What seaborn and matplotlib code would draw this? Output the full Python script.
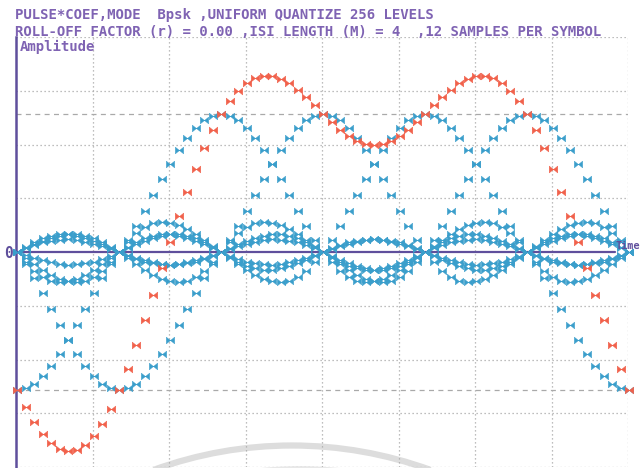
import numpy as np
import pandas as pd
import matplotlib
matplotlib.use("Agg")
import matplotlib.pyplot as plt
import seaborn as sns
from matplotlib.path import Path
from matplotlib.patches import Arc
from matplotlib.transforms import IdentityTransform

# BPSK symbols feeding the shaping filter; the first entry is symbol index -3
symbols = [-1, 1, 1, -1, -1, 1, 1, 1, 1, -1, -1, 1, 1]
first_symbol = -3
samples_per_symbol = 12
isi_length = 4
n_samples = 73

# one half of the symmetric pulse coefficients (r = 0.00), taps 0 .. 48
half_pulse = [
    1.0000, 0.9886, 0.9549, 0.9003, 0.8270, 0.7379, 0.6366, 0.5271, 0.4135,
    0.3001, 0.1910, 0.0899, 0.0000,
    -0.0760, -0.1364, -0.1801, -0.2067, -0.2170, -0.2122, -0.1942, -0.1654,
    -0.1286, -0.0868, -0.0430, 0.0000,
    0.0395, 0.0735, 0.1000, 0.1181, 0.1272, 0.1273, 0.1190, 0.1034,
    0.0819, 0.0562, 0.0283, 0.0000,
    -0.0267, -0.0503, -0.0693, -0.0827, -0.0900, -0.0910, -0.0858, -0.0752,
    -0.0600, -0.0415, -0.0210, 0.0000,
]

title_1 = "PULSE*COEF,MODE  Bpsk ,UNIFORM QUANTIZE 256 LEVELS"
title_2 = "ROLL-OFF FACTOR (r) = 0.00 ,ISI LENGTH (M) = 4  ,12 SAMPLES PER SYMBOL"

# each symbol times the pulse taps, placed on the sample grid
span = samples_per_symbol * isi_length
rows = []
for i, a in enumerate(symbols):
    k = first_symbol + i
    for m in range(-span, span + 1):
        n = k * samples_per_symbol + m
        if 0 <= n < n_samples:
            rows.append((n, a * half_pulse[abs(m)], k))
pulses = pd.DataFrame(rows, columns=["sample", "amplitude", "symbol"])
# superposition of all shaped symbols
total = pulses.groupby("sample", as_index=False)["amplitude"].sum()

BLUE = "#3a9ecb"
RED = "#f1614b"
PURPLE_TXT = "#7f63b3"
PURPLE_AX = "#5f4f9c"
GRID = "#a9a9a9"

sns.set_style("white")
plt.rcParams["font.family"] = ["DejaVu Sans Mono", "DejaVu Sans"]

W, H = 642, 468
fig = plt.figure(figsize=(W / 100, H / 100), dpi=100)
fig.patch.set_facecolor("white")

# faint grey arc along the lower edge, behind the plot
arc = Arc((292, H - 850), 809, 809, theta1=70, theta2=110,
          transform=IdentityTransform(), color="#dddddd", lw=4.5, zorder=0)
fig.add_artist(arc)
arc2 = Arc((300, H - 872), 809, 809, theta1=73, theta2=106,
           transform=IdentityTransform(), color="#e8e8e8", lw=2, zorder=0)
fig.add_artist(arc2)

ax = fig.add_axes([16 / W, 1 / H, 612 / W, 430 / H])
ax.patch.set_alpha(0)

px = 8.5
xmin, xmax = -1 / px, (628 - 17) / px
ylim = 1.558
ax.set_xlim(xmin, xmax)
ax.set_ylim(-ylim, ylim)

for xv in np.linspace(xmin, xmax, 9)[1:]:
    ax.axvline(xv, color=GRID, lw=0.9, ls=(0, (1, 2.2)), zorder=1)
for yv in np.linspace(-ylim, ylim, 9):
    if abs(yv) > 1e-9:
        ax.axhline(yv, color=GRID, lw=0.9, ls=(0, (1, 2.2)), zorder=1)
for yv in (-1.0, 1.0):
    ax.axhline(yv, color=GRID, lw=0.9, ls=(0, (4, 3.5)), zorder=1)

ax.axhline(0, xmin=0, xmax=(615 - 16) / 612, color=PURPLE_AX, lw=1.6, zorder=2)

for s in ("top", "right", "bottom"):
    ax.spines[s].set_visible(False)
ax.spines["left"].set_color(PURPLE_AX)
ax.spines["left"].set_linewidth(1.8)
ax.set_xticks([])
ax.set_yticks([])

bowtie = Path([(-1, -0.8), (1, 0.8), (1, -0.8), (-1, 0.8), (-1, -0.8)],
              [Path.MOVETO, Path.LINETO, Path.LINETO, Path.LINETO, Path.CLOSEPOLY])

sns.scatterplot(data=pulses, x="sample", y="amplitude", color=BLUE,
                marker=bowtie, s=36, linewidth=0.3, edgecolor=BLUE, ax=ax,
                zorder=3, clip_on=False, legend=False)
sns.scatterplot(data=total, x="sample", y="amplitude", color=RED,
                marker=bowtie, s=38, linewidth=0.3, edgecolor=RED, ax=ax,
                zorder=4, clip_on=False, legend=False)
ax.set_xlabel("")
ax.set_ylabel("")

txt = dict(fontfamily="DejaVu Sans Mono", fontweight="bold", fontsize=10.1,
           color=PURPLE_TXT, va="center", ha="left")
fig.text(15 / W, 1 - 15 / H, title_1, **txt)
fig.text(15 / W, 1 - 32 / H, title_2, **txt)
fig.text(20 / W, 1 - 47 / H, "Amplitude", **txt)
fig.text(4 / W, 1 - 254 / H, "0", **dict(txt, color=PURPLE_AX, fontsize=10.5))
fig.text(616 / W, 1 - 246 / H, "Time", **dict(txt, color=PURPLE_AX, fontsize=7.4))

fig.savefig("out.png", dpi=100, facecolor="white")
